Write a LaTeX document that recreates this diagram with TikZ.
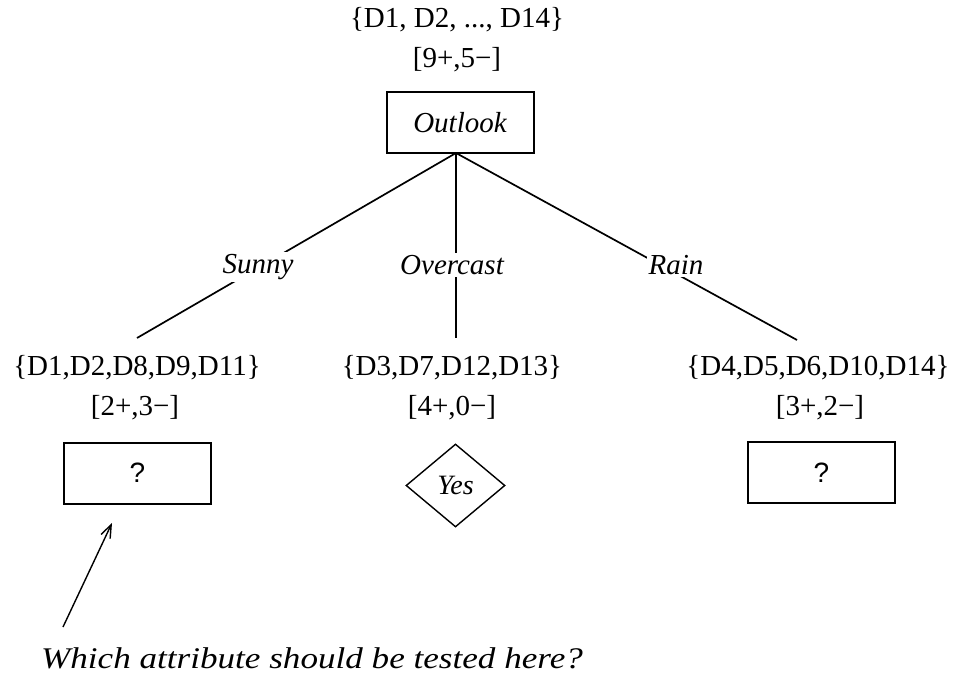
\documentclass[tikz,border=0pt]{standalone}
\usepackage{fontspec}
\setmainfont{Liberation Serif}
\newfontfamily\qfont{Liberation Sans}
\newfontfamily\notefont{Liberation Serif}[FakeStretch=1.17]
\usetikzlibrary{shapes.geometric,arrows.meta}
\tikzset{
  settxt/.style={font=\fontsize{29}{31}\selectfont, inner sep=0pt, anchor=center},
  attrbox/.style={draw, line width=2pt, minimum width=147pt, minimum height=61pt, inner sep=0pt},
  leafdia/.style={draw, diamond, line width=1.4pt, minimum width=99pt, minimum height=83pt, inner sep=0pt, font=\fontsize{28}{30}\selectfont\itshape},
  edge/.style={line width=1.7pt},
  elabel/.style={fill=white, inner sep=2pt, font=\fontsize{29}{31}\selectfont\itshape},
  note/.style={line width=1.4pt, -{Straight Barb[length=13pt,width=10pt,line width=1.4pt]}}
}
\begin{document}
\begin{tikzpicture}[x=1pt,y=-1pt]
\useasboundingbox (0,0) rectangle (954,675);
% root
\node[settxt] (rootset) at (457,20) {\{D1, D2, ..., D14\}};
\node[settxt] (rootcnt) at (457,60) {[9+,5\textminus]};
\node[attrbox, font=\fontsize{29}{31}\selectfont\itshape] (outlook) at (460,122.5) {Outlook};
% free ends of the branches
\coordinate (sunnyend) at (137,338);
\coordinate (overend) at (456,338);
\coordinate (rainend) at (797,340);
\coordinate (apex) at (456,153);
\draw[edge] (apex) -- (sunnyend);
\draw[edge] (apex) -- (overend);
\draw[edge] (apex) -- (rainend);
\node[elabel] (sunny) at (258,267) {Sunny};
\node[elabel] (overcast) at (452,265) {Overcast};
\node[elabel] (rain) at (676,265) {Rain};
% left child
\node[settxt] (lset) at (137,368) {\{D1,D2,D8,D9,D11\}};
\node[settxt] (lcnt) at (135,408) {[2+,3\textminus]};
\node[attrbox, font=\qfont\fontsize{28}{30}\selectfont] (lbox) at (137.5,473) {?};
% middle child
\node[settxt] (mset) at (452,368) {\{D3,D7,D12,D13\}};
\node[settxt] (mcnt) at (452,408) {[4+,0\textminus]};
\node[leafdia] (yes) at (455.5,485.5) {Yes};
% right child
\node[settxt] (rset) at (818,368) {\{D4,D5,D6,D10,D14\}};
\node[settxt] (rcnt) at (820,408) {[3+,2\textminus]};
\node[attrbox, font=\qfont\fontsize{28}{30}\selectfont] (rbox) at (821.5,472.5) {?};
% note
\coordinate (arrtail) at (63,627);
\coordinate (arrtip) at (112,523);
\draw[note] (arrtail) -- (arrtip);
\node[settxt, font=\notefont\fontsize{30}{32}\selectfont\itshape] (question) at (312,658) {Which attribute should be tested here?};
\end{tikzpicture}
\end{document}
